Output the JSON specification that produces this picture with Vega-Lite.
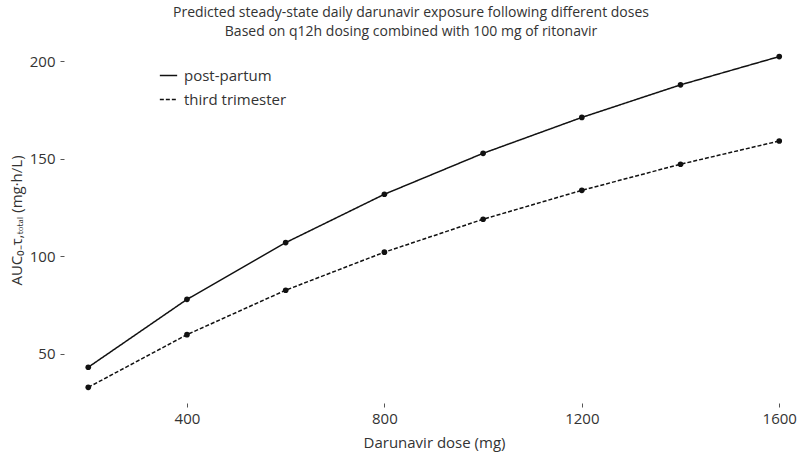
{
  "$schema": "https://vega.github.io/schema/vega-lite/v6.json",
  "width": 728,
  "height": 360,
  "autosize": "none",
  "padding": {"left": 70, "top": 40, "right": 0, "bottom": 59},
  "background": "white",
  "config": {
    "font": "Open Sans",
    "view": {"stroke": null},
    "axis": {"domain": false, "grid": false, "labelFont": "Open Sans", "titleFont": "Open Sans", "labelColor": "#333", "titleColor": "#333", "tickColor": "#555", "labelFontSize": 15, "titleFontSize": 15, "titleFontWeight": "normal"}
  },
  "title": {
    "text": "Predicted steady-state daily darunavir exposure following different doses",
    "subtitle": "Based on q12h dosing combined with 100 mg of ritonavir",
    "fontSize": 14,
    "subtitleFontSize": 14,
    "fontWeight": "normal",
    "color": "#333",
    "subtitleColor": "#333",
    "font": "Open Sans",
    "subtitleFont": "Open Sans",
    "anchor": "middle",
    "dx": -23,
    "offset": 1,
    "subtitlePadding": 5.5
  },
  "data": {
    "values": [
      {"dose": 200, "auc": 43.2, "group": "post-partum"},
      {"dose": 400, "auc": 78.0, "group": "post-partum"},
      {"dose": 600, "auc": 107.1, "group": "post-partum"},
      {"dose": 800, "auc": 131.9, "group": "post-partum"},
      {"dose": 1000, "auc": 152.9, "group": "post-partum"},
      {"dose": 1200, "auc": 171.3, "group": "post-partum"},
      {"dose": 1400, "auc": 188.0, "group": "post-partum"},
      {"dose": 1600, "auc": 202.5, "group": "post-partum"},
      {"dose": 200, "auc": 32.9, "group": "third trimester"},
      {"dose": 400, "auc": 59.9, "group": "third trimester"},
      {"dose": 600, "auc": 82.7, "group": "third trimester"},
      {"dose": 800, "auc": 102.2, "group": "third trimester"},
      {"dose": 1000, "auc": 119.1, "group": "third trimester"},
      {"dose": 1200, "auc": 133.9, "group": "third trimester"},
      {"dose": 1400, "auc": 147.3, "group": "third trimester"},
      {"dose": 1600, "auc": 159.2, "group": "third trimester"}
    ]
  },
  "encoding": {
    "x": {
      "field": "dose", "type": "quantitative",
      "scale": {"domain": [163, 1638], "nice": false, "zero": false},
      "axis": {"values": [400, 800, 1200, 1600], "format": "d", "title": "Darunavir dose (mg)", "offset": 3, "tickSize": 4, "labelPadding": 4, "titlePadding": 9}
    },
    "y": {
      "field": "auc", "type": "quantitative",
      "scale": {"domain": [26.4, 211], "nice": false, "zero": false},
      "axis": {"values": [50, 100, 150, 200], "title": "AUC₀₋τ,ₜₒₜₐₗ (mg·h/L)", "offset": 6, "tickSize": 4, "labelPadding": 5, "titlePadding": 5}
    }
  },
  "layer": [
    {
      "mark": {"type": "line", "color": "#111", "strokeWidth": 1.5},
      "encoding": {
        "strokeDash": {
          "field": "group", "type": "nominal",
          "scale": {"domain": ["post-partum", "third trimester"], "range": [[1, 0], [4, 2]]},
          "legend": {"title": null, "orient": "none", "legendX": 89, "legendY": 26, "symbolType": "stroke", "symbolSize": 300, "symbolStrokeWidth": 1.5, "symbolStrokeColor": "#111", "labelFontSize": 15, "labelColor": "#333", "labelFont": "Open Sans", "rowPadding": 6, "labelOffset": 6}
        }
      }
    },
    {
      "mark": {"type": "point", "filled": true, "color": "#111", "size": 32, "opacity": 1},
      "encoding": {"detail": {"field": "group", "type": "nominal"}}
    }
  ]
}
